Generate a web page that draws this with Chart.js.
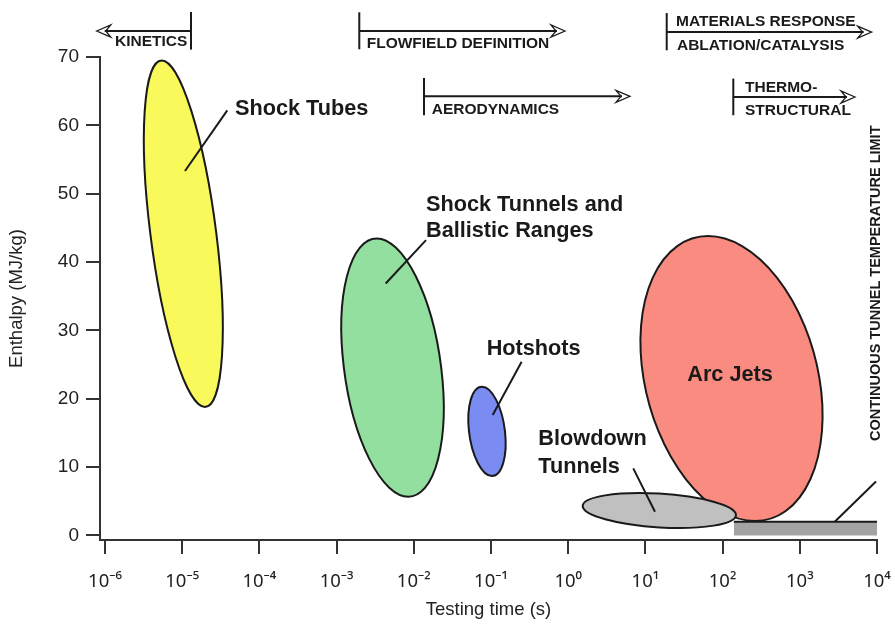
<!DOCTYPE html>
<html><head><meta charset="utf-8">
<script src="https://cdn.jsdelivr.net/npm/chart.js@4/dist/chart.umd.min.js"></script>
<style>html,body{margin:0;padding:0;background:#fff;}#wrap{width:895px;height:628px;position:relative;}</style>
</head><body><div id="wrap"><canvas id="c" width="895" height="628"></canvas></div>
<script>
// ---- data ----
const xTickValues = [1e-6,1e-5,1e-4,1e-3,1e-2,1e-1,1e0,1e1,1e2,1e3,1e4];
const xTickLabels = ['10\u207B\u2076','10\u207B\u2075','10\u207B\u2074','10\u207B\u00B3','10\u207B\u00B2','10\u207B\u00B9','10\u2070','10\u00B9','10\u00B2','10\u00B3','10\u2074'];
const yTickValues = [0,10,20,30,40,50,60,70];

const regionNames = ['Shock Tubes','Shock Tunnels and Ballistic Ranges','Hotshots','Arc Jets','Blowdown Tunnels'];
// each region is an ellipse: ends of one diameter (A, B) and end of its conjugate semi-diameter (C); [testing time s, enthalpy MJ/kg]
const ellipseA = [[5.43e-6,69.5],[3.31e-3,43.45],[0.0764,21.75],[64.7,43.8],[1.54,4.31]];
const ellipseB = [[1.97e-5,18.8],[8.49e-3,5.67],[0.103,8.70],[263,2.12],[149,3.0]];
const ellipseC = [[2.77e-5,44.15],[0.02265,24.56],[0.1518,15.22],[1800,22.96],[15.1,6.13]];

const limitTime = [140, 1e4];
const limitEnthalpy = [2.0, 2.0];

// ---- styles ----
const ellipseFills = ['#f9f95b','#93dfa0','#7a8cf2','#f98b80','#c0c0c0'];
const FONT = "'Liberation Sans', Arial, Helvetica, sans-serif";
const TICKFONT = "'Noto Sans', 'DejaVu Sans', sans-serif";
const INK = '#1a1a1a';

// annotation anchors in (log10 time, enthalpy)
const leaders = [
  [[-4.964,53.33],[-4.416,62.2]],
  [[-2.364,36.87],[-1.842,43.2]],
  [[-0.978,17.62],[-0.603,25.41]],
  [[0.843,9.82],[1.124,3.48]],
  [[3.456,2.05],[3.987,7.89]]
];
const bigLabels = [
  ['Shock Tubes',-4.316,62.45,'left'],
  ['Shock Tunnels and',-1.842,48.3,'left'],
  ['Ballistic Ranges',-1.842,44.5,'left'],
  ['Hotshots',-1.056,27.3,'left'],
  ['Blowdown',-0.387,14.15,'left'],
  ['Tunnels',-0.387,9.96,'left'],
  ['Arc Jets',2.096,23.5,'center']
];
// top regime arrows: bar at e, bar from h1 to h2, arrow at h, tip at e
const regimes = [
  {bar:-4.886,h1:76.58,h2:71.08,h:73.8,tip:-6.1075,texts:[['KINETICS',-5.87,72.19]]},
  {bar:-2.706,h1:76.54,h2:71.13,h:73.8,tip:-0.0415,texts:[['FLOWFIELD DEFINITION',-2.61,71.96]]},
  {bar:-1.868,h1:66.93,h2:61.48,h:64.25,tip:0.8005,texts:[['AERODYNAMICS',-1.768,62.31]]},
  {bar:1.276,h1:76.43,h2:70.98,h:73.65,tip:3.931,texts:[['MATERIALS RESPONSE',1.396,75.12],['ABLATION/CATALYSIS',1.409,71.61]]},
  {bar:2.1386,h1:66.84,h2:61.48,h:64.15,tip:3.715,texts:[['THERMO-',2.29,65.53],['STRUCTURAL',2.29,62.21]]}
];

const ellipsePlugin = {
  id:'ellipses',
  beforeDatasetsDraw(chart){
    const {ctx, scales:{x,y}} = chart;
    const P = pt => [x.getPixelForValue(pt[0]), y.getPixelForValue(pt[1])];
    for (let i=0;i<ellipseA.length;i++){
      const a=P(ellipseA[i]), b=P(ellipseB[i]), c=P(ellipseC[i]);
      const cx=(a[0]+b[0])/2, cy=(a[1]+b[1])/2;
      ctx.save();
      ctx.beginPath();
      ctx.save();
      ctx.translate(cx,cy);
      ctx.transform(c[0]-cx, c[1]-cy, a[0]-cx, a[1]-cy, 0, 0);
      ctx.arc(0,0,1,0,Math.PI*2);
      ctx.restore();
      ctx.fillStyle=ellipseFills[i]; ctx.fill();
      ctx.lineWidth=2; ctx.strokeStyle=INK; ctx.stroke();
      ctx.restore();
    }
  },
  afterDraw(chart){
    const {ctx, scales:{x,y}} = chart;
    const X = e => x.getPixelForValue(Math.pow(10,e));
    const Y = h => y.getPixelForValue(h);
    ctx.save();
    ctx.strokeStyle=INK; ctx.fillStyle=INK; ctx.lineWidth=2; ctx.lineCap='butt';
    leaders.forEach(l=>{
      ctx.beginPath(); ctx.moveTo(X(l[0][0]),Y(l[0][1])); ctx.lineTo(X(l[1][0]),Y(l[1][1])); ctx.stroke();
    });
    ctx.font = 'bold 21.7px '+FONT; ctx.textBaseline='middle';
    bigLabels.forEach(t=>{ ctx.textAlign=t[3]; ctx.fillText(t[0], X(t[1]), Y(t[2])); });
    // rotated limit label
    ctx.save();
    ctx.translate(X(3.9806), Y(36.9)); ctx.rotate(-Math.PI/2);
    ctx.font='bold 14.5px '+FONT; ctx.textAlign='center'; ctx.textBaseline='middle';
    ctx.fillText('CONTINUOUS TUNNEL TEMPERATURE LIMIT',0,0);
    ctx.restore();
    // regime arrows
    ctx.font='bold 15.5px '+FONT; ctx.textAlign='left'; ctx.textBaseline='middle';
    regimes.forEach(r=>{
      const bx=X(r.bar), ty=Y(r.h), tx=X(r.tip);
      ctx.lineWidth=2;
      ctx.beginPath(); ctx.moveTo(bx,Y(r.h1)); ctx.lineTo(bx,Y(r.h2)); ctx.stroke();
      const dir = tx>bx?1:-1;
      ctx.beginPath(); ctx.moveTo(bx,ty); ctx.lineTo(tx-dir*8,ty); ctx.stroke();
      ctx.lineWidth=1.3;
      ctx.beginPath();
      ctx.moveTo(tx,ty); ctx.lineTo(tx-dir*14,ty-6); ctx.lineTo(tx-dir*9,ty); ctx.lineTo(tx-dir*14,ty+6); ctx.closePath();
      ctx.stroke();
      r.texts.forEach(t=>ctx.fillText(t[0], X(t[1]), Y(t[2])));
    });
    ctx.restore();
  }
};

new Chart(document.getElementById('c'), {
  type:'line',
  data:{datasets:[{
    label:'Continuous tunnel temperature limit',
    data: limitTime.map((t,i)=>({x:t,y:limitEnthalpy[i]})),
    borderColor:INK, borderWidth:2, backgroundColor:'#a3a3a3', fill:'origin',
    pointRadius:0, tension:0
  }]},
  plugins:[ellipsePlugin],
  options:{
    responsive:false, animation:false, devicePixelRatio:1,
    layout:{padding:{top:57,right:18,left:0,bottom:0}},
    plugins:{legend:{display:false}, tooltip:{enabled:false}},
    scales:{
      x:{
        type:'logarithmic', min:Math.pow(10,-6-5/77.2), max:1e4,
        afterBuildTicks:s=>{ s.ticks = xTickValues.map(v=>({value:v})); },
        afterFit:s=>{ s.height = 88; s.paddingLeft = 0; s.paddingRight = 0; },
        ticks:{ callback:(v)=>xTickLabels[xTickValues.indexOf(v)], font:{size:18.5,family:TICKFONT}, color:'#222', padding:17, maxRotation:0, autoSkip:false },
        grid:{ display:true, drawOnChartArea:false, drawTicks:true, tickLength:14, color:'#333', lineWidth:2 },
        border:{ display:true, color:'#333', width:2 },
        title:{ display:true, text:'Testing time (s)', font:{size:18.5,family:FONT}, color:'#222', padding:{top:0,bottom:7} }
      },
      y:{
        type:'linear', min:-0.66, max:70,
        afterBuildTicks:s=>{ s.ticks = yTickValues.map(v=>({value:v})); },
        afterFit:s=>{ s.width = 100; },
        ticks:{ callback:v=>String(v), font:{size:19,family:FONT}, color:'#222', padding:7, autoSkip:false },
        grid:{ display:true, drawOnChartArea:false, drawTicks:true, tickLength:14, color:'#333', lineWidth:2 },
        border:{ display:true, color:'#333', width:2 },
        title:{ display:true, text:'Enthalpy (MJ/kg)', font:{size:18.5,family:FONT}, color:'#222', padding:{top:6,bottom:0} }
      }
    }
  }
});
</script></body></html>
